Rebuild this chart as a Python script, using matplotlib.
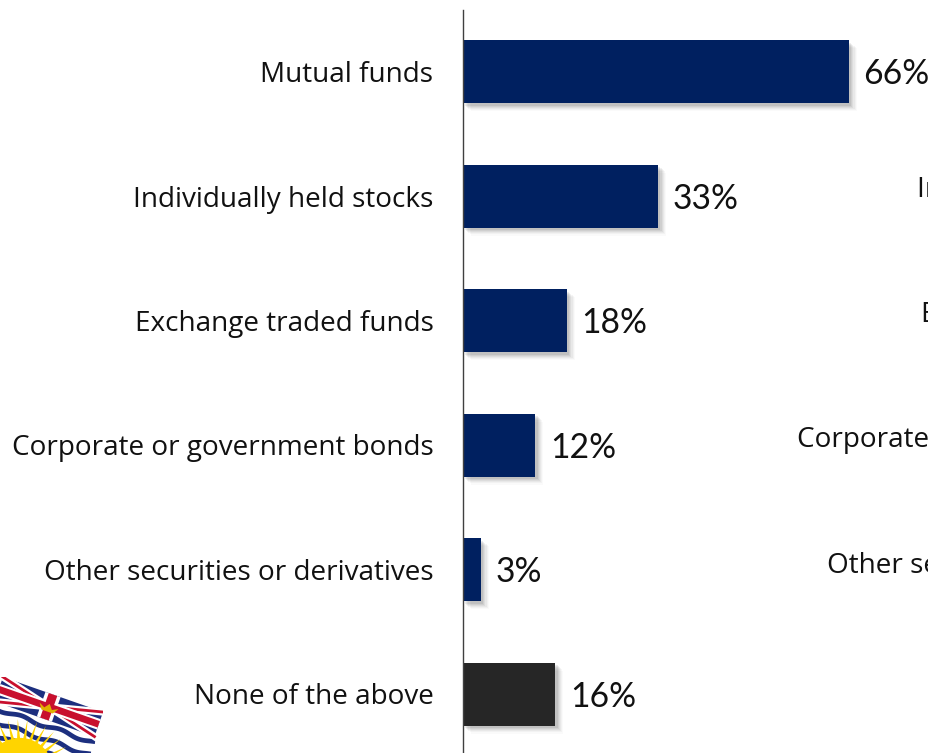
import numpy as np
import matplotlib
matplotlib.use("Agg")
import matplotlib.pyplot as plt
import matplotlib.patheffects as pe
from matplotlib.patches import Polygon, Rectangle, Circle
from matplotlib.transforms import Affine2D

categories = ["Mutual funds", "Individually held stocks", "Exchange traded funds",
              "Corporate or government bonds", "Other securities or derivatives", "None of the above"]
values = [66, 33.4, 17.8, 12.4, 3.1, 15.8]
value_labels = ["66%", "33%", "18%", "12%", "3%", "16%"]
bar_colors = ["#002060"] * 5 + ["#262626"]
ghost_labels = ["Individually held stocks", "Exchange traded funds",
                "Corporate or government bonds", "Other securities or derivatives"]

W, H = 929, 753
fig = plt.figure(figsize=(W / 100, H / 100), dpi=100, facecolor="white")

# main chart
left, top = 462.6, 10
px_per_unit = 5.85
row = 124.5
first = 71.5
ax = fig.add_axes([left / W, 0, (W - left) / W, (H - top) / H])
ax.patch.set_alpha(0)
ax.set_xlim(0, (W - left) / px_per_unit)
ax.set_ylim((H - first) / row, (top - first) / row)

shadow = [pe.SimplePatchShadow(offset=(o, -o), shadow_rgbFace="#000000", alpha=a)
          for o, a in [(6.0, 0.02), (5.0, 0.03), (4.2, 0.04), (3.4, 0.05), (2.6, 0.06), (1.8, 0.07)]] + [pe.Normal()]
bars = ax.barh(range(len(values)), values, height=63 / row, color=bar_colors, zorder=2)
for b in bars:
    b.set_path_effects(shadow)
for i, (v, t) in enumerate(zip(values, value_labels)):
    ax.annotate(t, (v, i), xytext=(10.6, -2.0), textcoords="offset points", va="center", ha="left",
                fontsize=24.2, family="Lato", color="#111111", annotation_clip=False)

ax.set_yticks(range(len(categories)), categories)
ax.tick_params(axis="y", length=0, pad=21, labelsize=20.1, labelcolor="#111111")
for lab in ax.get_yticklabels():
    lab.set_family("Open Sans")
    lab.set_y(lab.get_position()[1])
ax.set_xticks([])
for s in ["top", "right", "bottom"]:
    ax.spines[s].set_visible(False)
ax.spines["left"].set_color("#404040")
ax.spines["left"].set_linewidth(1.0)
ax.spines["left"].set_zorder(3)

# labels of the neighbouring chart, cut off at the right edge
for t, x, y in zip(ghost_labels, [917, 921, 797, 827], [190, 315, 440, 566]):
    fig.text(x / W, 1 - y / H, t, fontsize=20.1, family="Open Sans", color="#111111", va="center", ha="left")

# British Columbia flag, tilted and cut off at the bottom left
fl = fig.add_axes([0, 0, 1, 1])
fl.set_xlim(0, W)
fl.set_ylim(H, 0)
fl.axis("off")
fl.patch.set_alpha(0)
T = Affine2D().rotate_deg(19.3).translate(3, 677) + fl.transData
FW, FH, JH = 106, 110, 26
clip = Rectangle((0, 0), FW, FH, transform=T, fc="white", ec="none", zorder=1)
fl.add_patch(clip)


def add(p):
    p.set_transform(T)
    if isinstance(p, plt.Line2D):
        fl.add_line(p)
    else:
        fl.add_patch(p)
    p.set_clip_path(clip)
    return p


navy, red, gold = "#1c2f7f", "#c8102e", "#ffd400"
cx, cy = 53, JH / 2
add(Polygon([(0, 0), (FW, 0), (FW, JH), (0, JH)], fc=navy, ec="none", zorder=2))
for a, b in [((0, 0), (FW, JH)), ((0, JH), (FW, 0))]:
    add(plt.Line2D([a[0], b[0]], [a[1], b[1]], color="white", lw=5.2, zorder=3))
    add(plt.Line2D([a[0], b[0]], [a[1], b[1]], color=red, lw=2.0, zorder=4))
add(Rectangle((cx - 8, 0), 16, JH, fc="white", ec="none", zorder=5))
add(Rectangle((0, cy - 5.5), FW, 11, fc="white", ec="none", zorder=5))
add(Rectangle((cx - 4.5, 0), 9, JH, fc=red, ec="none", zorder=6))
add(Rectangle((0, cy - 3.4), FW, 6.8, fc=red, ec="none", zorder=6))
add(Polygon([(cx - 10, 12), (cx - 6, 18), (cx + 6, 18), (cx + 10, 12), (cx + 4, 15), (cx, 10), (cx - 4, 15)],
            fc="#e0b000", ec="none", zorder=7))

u = np.linspace(0, FW, 120)
for base in [32, 45, 58, 71]:
    add(plt.Line2D(u, base + 1.6 * np.sin(u / 6.5), color=navy, lw=3.4, zorder=2))

sx, sy = 47, 83
for ang in np.linspace(205, 335, 13):
    r = np.radians(ang)
    d = np.array([np.cos(r), np.sin(r)])
    n = np.array([-d[1], d[0]])
    c = np.array([sx, sy])
    add(Polygon([c + n * 4, c + d * 52, c - n * 4], fc=gold, ec="none", zorder=3))
add(Circle((sx, sy), 33, fc=gold, ec="none", zorder=4))

fig.savefig("out.png", dpi=100, facecolor="white")
